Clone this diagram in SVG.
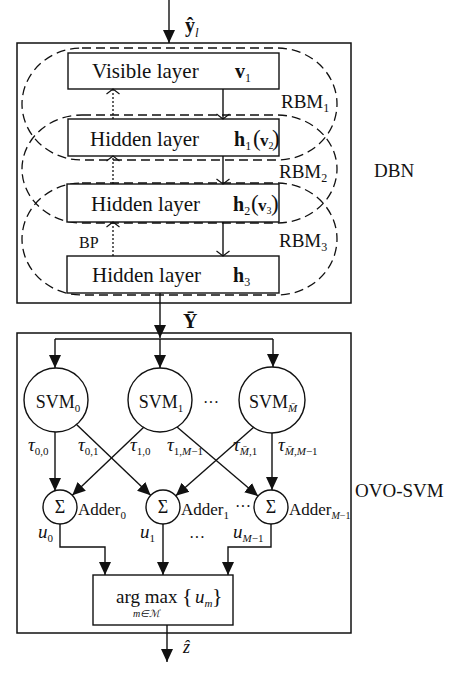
<svg xmlns="http://www.w3.org/2000/svg" width="452" height="690" viewBox="0 0 452 690">
<style>
text{font-family:"Liberation Serif","Times New Roman",serif;fill:#111}
.box{fill:#fff;stroke:#111;stroke-width:1.4}
.frame{fill:none;stroke:#111;stroke-width:1.5}
.rbm{fill:none;stroke:#111;stroke-width:1.3;stroke-dasharray:9 5}
.ln{fill:none;stroke:#111;stroke-width:1.4}
.dot{fill:none;stroke:#111;stroke-width:1.3;stroke-dasharray:2 2}
.fa{marker-end:url(#fa)}
.oa{marker-end:url(#oa)}
.it{font-style:italic}
.b{font-weight:bold}
</style>
<defs>
<marker id="fa" markerUnits="userSpaceOnUse" viewBox="0 -7 14 14" markerWidth="14" markerHeight="14" refX="13" refY="0" orient="auto">
<path d="M0,-6 L13,0 L0,6 z" fill="#111"/>
</marker>
<marker id="oa" markerUnits="userSpaceOnUse" viewBox="-7 -8 9 16" markerWidth="9" markerHeight="16" refX="0" refY="0" orient="auto">
<path d="M-5,-6.5 L0,0 L-5,6.5" fill="none" stroke="#111" stroke-width="1.2"/>
</marker>
</defs>

<g id="dbn">
<rect class="frame" x="17" y="43" width="334" height="260"/>
<text x="374" y="177" font-size="19">DBN</text>
</g>
<g id="rbm1">
<rect class="rbm" x="22" y="48" width="315" height="112" rx="60" ry="56"/>
<text x="281" y="108" font-size="19">RBM<tspan font-size="12" dy="4">1</tspan></text>
</g>
<g id="rbm2">
<rect class="rbm" x="22" y="115" width="315" height="108" rx="60" ry="54"/>
<text x="279" y="178" font-size="19">RBM<tspan font-size="12" dy="4">2</tspan></text>
</g>
<g id="rbm3">
<rect class="rbm" x="22" y="183" width="315" height="112" rx="60" ry="56"/>
<text x="279" y="247" font-size="19">RBM<tspan font-size="12" dy="4">3</tspan></text>
</g>

<g id="visible">
<rect class="box" x="68" y="53" width="211" height="36"/>
<text x="92" y="78" font-size="21">Visible layer</text>
<text y="78" font-size="20"><tspan x="235" class="b">v</tspan><tspan font-size="12" dy="4">1</tspan></text>
</g>
<g id="hidden1">
<rect class="box" x="68" y="119" width="211" height="37"/>
<text x="90" y="146" font-size="21">Hidden layer</text>
<text y="146" font-size="20"><tspan x="234" class="b">h</tspan><tspan font-size="12" dy="4">1</tspan><tspan x="253" dy="-4" font-size="23">(</tspan><tspan x="260" class="b" font-size="17">v</tspan><tspan font-size="10" dy="3">2</tspan><tspan x="272" dy="-3" font-size="23">)</tspan></text>
</g>
<g id="hidden2">
<rect class="box" x="67" y="184" width="212" height="38"/>
<text x="91" y="211" font-size="21">Hidden layer</text>
<text y="211" font-size="20"><tspan x="233" class="b">h</tspan><tspan font-size="12" dy="4">2</tspan><tspan x="251" dy="-4" font-size="23">(</tspan><tspan x="258" class="b" font-size="17">v</tspan><tspan font-size="10" dy="3">3</tspan><tspan x="271" dy="-3" font-size="23">)</tspan></text>
</g>
<g id="hidden3">
<rect class="box" x="67" y="256" width="212" height="37"/>
<text x="92" y="282" font-size="21">Hidden layer</text>
<text y="282" font-size="20"><tspan x="233" class="b">h</tspan><tspan font-size="12" dy="4">3</tspan></text>
</g>
<g id="bp-label">
<text x="79" y="248" font-size="16">BP</text>
</g>

<g id="ovo">
<rect class="frame" x="17" y="333" width="334" height="300"/>
<text x="355" y="497" font-size="19">OVO-SVM</text>
</g>
<g id="svm0">
<circle class="box" cx="56" cy="400" r="32"/>
<text x="58" y="408" font-size="18" text-anchor="middle">SVM<tspan font-size="11" dy="4">0</tspan></text>
</g>
<g id="svm1">
<circle class="box" cx="160" cy="400" r="32"/>
<text x="161" y="408" font-size="18" text-anchor="middle">SVM<tspan font-size="11" dy="4">1</tspan></text>
</g>
<g id="svmM">
<circle class="box" cx="272" cy="400" r="33"/>
<text x="273" y="408" font-size="18" text-anchor="middle">SVM<tspan font-size="11" dy="4" class="it">M̄</tspan></text>
</g>
<text x="211" y="408" font-size="16" text-anchor="middle">···</text>

<g id="adder0">
<circle class="box" cx="60" cy="507" r="17"/>
<text x="60" y="513" font-size="18" text-anchor="middle">Σ</text>
<text x="78" y="515" font-size="17">Adder<tspan font-size="11" dy="4">0</tspan></text>
</g>
<g id="adder1">
<circle class="box" cx="163" cy="507" r="17"/>
<text x="163" y="513" font-size="18" text-anchor="middle">Σ</text>
<text x="181" y="515" font-size="17">Adder<tspan font-size="11" dy="4">1</tspan></text>
</g>
<g id="adderM">
<circle class="box" cx="271" cy="507" r="17"/>
<text x="271" y="513" font-size="18" text-anchor="middle">Σ</text>
<text x="289" y="515" font-size="17">Adder<tspan font-size="10" dy="4" class="it">M</tspan><tspan font-size="10">−1</tspan></text>
</g>
<text x="243" y="512" font-size="16" text-anchor="middle">···</text>

<g id="argmax">
<rect class="box" x="93" y="575" width="140" height="50"/>
<text x="116" y="603" font-size="19">arg max</text>
<text y="603" font-size="22"><tspan x="182">{</tspan><tspan x="195" class="it" font-size="19">u</tspan><tspan class="it" font-size="11" dy="4">m</tspan><tspan x="212" dy="-4">}</tspan></text>
<text x="133" y="617" font-size="10" class="it">m∈ℳ</text>
</g>

<g id="labels">
<text x="185" y="32" font-size="20" class="b">ŷ<tspan class="it" font-weight="normal" font-size="13" dy="5">l</tspan></text>
<text x="183" y="328" font-size="20" class="b">Ȳ</text>
<text x="183" y="653" font-size="18" class="it">ẑ</text>
<text x="28" y="451" font-size="19" class="it">τ<tspan font-size="11" dy="4" font-style="normal">0,0</tspan></text>
<text x="78" y="451" font-size="19" class="it">τ<tspan font-size="11" dy="4" font-style="normal">0,1</tspan></text>
<text x="130" y="451" font-size="19" class="it">τ<tspan font-size="11" dy="4" font-style="normal">1,0</tspan></text>
<text x="167" y="451" font-size="19" class="it">τ<tspan font-size="11" dy="4" font-style="normal">1,</tspan><tspan font-size="11">M</tspan><tspan font-size="11" font-style="normal">−1</tspan></text>
<text x="233" y="451" font-size="19" class="it">τ<tspan font-size="11" dy="4">M̄</tspan><tspan font-size="11" font-style="normal">,1</tspan></text>
<text x="278" y="451" font-size="19" class="it">τ<tspan font-size="11" dy="4">M̄</tspan><tspan font-size="11" font-style="normal">,</tspan><tspan font-size="11">M</tspan><tspan font-size="11" font-style="normal">−1</tspan></text>
<text x="38" y="538" font-size="19" class="it">u<tspan font-size="11" dy="4" font-style="normal">0</tspan></text>
<text x="140" y="538" font-size="19" class="it">u<tspan font-size="11" dy="4" font-style="normal">1</tspan></text>
<text x="233" y="538" font-size="19" class="it">u<tspan font-size="11" dy="4">M</tspan><tspan font-size="11" font-style="normal">−1</tspan></text>
<text x="197" y="543" font-size="16" text-anchor="middle">···</text>
</g>

<g id="connectors">
<line class="ln fa" x1="169" y1="0" x2="169" y2="43"/>
<line class="ln oa" x1="223" y1="89" x2="223" y2="119"/>
<line class="ln oa" x1="223" y1="156" x2="223" y2="184"/>
<line class="ln oa" x1="223" y1="222" x2="223" y2="256"/>
<line class="dot oa" x1="113" y1="119" x2="113" y2="89"/>
<line class="dot oa" x1="113" y1="184" x2="113" y2="156"/>
<line class="dot oa" x1="113" y1="256" x2="113" y2="222"/>
<line class="ln fa" x1="160" y1="293" x2="160" y2="338"/>
<line class="ln" x1="55" y1="339" x2="273" y2="339"/>
<line class="ln fa" x1="55" y1="339" x2="55" y2="368"/>
<line class="ln fa" x1="160" y1="339" x2="160" y2="368"/>
<line class="ln fa" x1="273" y1="339" x2="273" y2="367"/>
<line class="ln fa" x1="55" y1="432" x2="55" y2="491"/>
<line class="ln fa" x1="76" y1="424" x2="150.6" y2="495.3"/>
<line class="ln fa" x1="144" y1="427" x2="72.3" y2="495.3"/>
<line class="ln fa" x1="177" y1="427" x2="258" y2="496"/>
<line class="ln fa" x1="254" y1="427" x2="175.8" y2="495.8"/>
<line class="ln fa" x1="272" y1="433" x2="272" y2="490"/>
<path class="ln fa" d="M60,524 V547 H105 V575"/>
<line class="ln fa" x1="163" y1="524" x2="163" y2="575"/>
<path class="ln fa" d="M271,524 V547 H228 V575"/>
<line class="ln fa" x1="167" y1="625" x2="167" y2="662"/>
</g>
</svg>
